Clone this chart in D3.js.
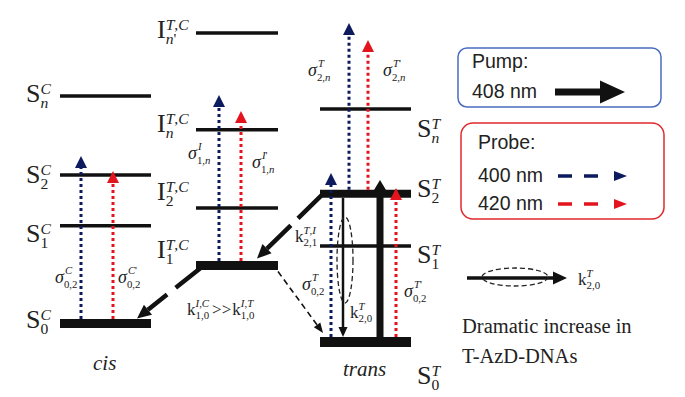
<!DOCTYPE html>
<html>
<head>
<meta charset="utf-8">
<script src="https://cdn.jsdelivr.net/npm/d3@7"></script>
<style>
  body { margin: 0; background: #fff; }
  svg { display: block; }
</style>
</head>
<body>
<svg id="chart"></svg>
<script>
// energies in arbitrary units (0 = trans ground state)
const cisLevels   = ["S0", "S1", "S2", "Sn"];
const cisEnergy   = [5.8, 36.3, 52.2, 76.9];
const interLevels = ["I1", "I2", "In", "In'"];
const interEnergy = [23.9, 41.9, 66.3, 96.6];
const transLevels = ["S0", "S1", "S2", "Sn"];
const transEnergy = [0, 30.0, 46.3, 72.8];

// probe / pump transitions: [column, start level, energy reached by the arrow]
const probe400 = [["cis", "S0", 58.1], ["inter", "I1", 77.2], ["trans", "S2", 99.7], ["trans", "S0", 52.8]];
const probe420 = [["cis", "S0", 53.4], ["inter", "I1", 72.2], ["trans", "S2", 94.4], ["trans", "S0", 48.1]];
const pump408  = [["trans", "S0", 50.6]];

// relaxation paths: [from column, from level, to column, to level]
const relax = [["trans", "S2", "inter", "I1"], ["inter", "I1", "cis", "S0"], ["inter", "I1", "trans", "S0"]];

const W = 685, H = 397;
const SERIF = "'Liberation Serif','Times New Roman',serif";
const SANS = "'Liberation Sans',Arial,sans-serif";
const INK = "#222";
const NAVY = "#0c1a5e", RED = "#e3141e";

const svg = d3.select("#chart").attr("width", W).attr("height", H);

const y = d3.scaleLinear().domain([0, 100]).range([342, 22]);
const columns = { cis: [60, 151], inter: [196, 278], trans: [320, 411] };
const thick = { "cis S0": 9, "inter I1": 9, "trans S2": 8, "trans S0": 10 };

const energyMap = {
    cis: new Map(d3.zip(cisLevels, cisEnergy)),
    inter: new Map(d3.zip(interLevels, interEnergy)),
    trans: new Map(d3.zip(transLevels, transEnergy))
};
const E = (c, n) => energyMap[c].get(n);
const lw = (c, n) => thick[c + " " + n] || 3.5;

// ---- levels
const allLevels = [];
Object.keys(energyMap).forEach(c => energyMap[c].forEach((e, n) => allLevels.push({ col: c, name: n, e: e })));

svg.selectAll(".level")
    .data(allLevels)
    .enter().append("line")
    .attr("class", "level")
    .attr("x1", d => columns[d.col][0])
    .attr("x2", d => columns[d.col][1])
    .attr("y1", d => y(d.e))
    .attr("y2", d => y(d.e))
    .attr("stroke", "#111")
    .attr("stroke-width", d => lw(d.col, d.name));

function head(x1, y1, x2, y2, len, wid, color) {
    const a = Math.atan2(y2 - y1, x2 - x1);
    const bx = x2 - len * Math.cos(a), by = y2 - len * Math.sin(a);
    const px = Math.sin(a) * wid / 2, py = -Math.cos(a) * wid / 2;
    svg.append("path")
        .attr("d", `M${bx + px},${by + py}L${x2},${y2}L${bx - px},${by - py}Z`)
        .attr("fill", color);
    return [bx, by];
}

// ---- relaxation arrows (dashed)
// anchor: which end of the level bar ("l" or "r") plus a small offset
const relaxStyle = [
    { from: ["l", 3, 0], to: ["r", -21, -7], dash: "35,10", w: 4.5, hl: 14, hw: 13 },
    { from: ["l", 4, 3], to: ["r", -14, -5], dash: "31,11", w: 4.5, hl: 14, hw: 13 },
    { from: ["r", 0, 6], to: ["l", 3, -9], dash: "6,4", w: 1.6, hl: 10, hw: 8 }
];
const end = (c, side) => side === "l" ? columns[c][0] : columns[c][1];
relax.forEach(([c1, l1, c2, l2], i) => {
    const s = relaxStyle[i];
    const x1 = end(c1, s.from[0]) + s.from[1], y1 = y(E(c1, l1)) + s.from[2];
    const x2 = end(c2, s.to[0]) + s.to[1], y2 = y(E(c2, l2)) + s.to[2];
    const b = head(x1, y1, x2, y2, s.hl, s.hw, "#111");
    svg.append("line")
        .attr("x1", x1).attr("y1", y1).attr("x2", b[0]).attr("y2", b[1])
        .attr("stroke", "#111").attr("stroke-width", s.w)
        .attr("stroke-dasharray", s.dash);
});

// ---- probe arrows (dotted)
const probe400X = [81, 219, 349, 331];
const probe420X = [113, 241, 368, 396];
function probeArrows(data, xs, color) {
    data.forEach(([c, from, top], i) => {
        const y0 = y(E(c, from)) - lw(c, from) / 2, yt = y(top), hl = 12;
        svg.append("line")
            .attr("x1", xs[i]).attr("x2", xs[i])
            .attr("y1", y0).attr("y2", yt + hl)
            .attr("stroke", color).attr("stroke-width", 3)
            .attr("stroke-dasharray", "3,3");
        head(xs[i], yt + hl + 1, xs[i], yt, hl, 12, color);
    });
}
probeArrows(probe400, probe400X, NAVY);
probeArrows(probe420, probe420X, RED);

// ---- pump arrow
pump408.forEach(([c, from, top]) => {
    const x = 380, yt = y(top);
    svg.append("line")
        .attr("x1", x).attr("x2", x)
        .attr("y1", y(E(c, from))).attr("y2", yt + 14)
        .attr("stroke", "#111").attr("stroke-width", 7);
    head(x, yt + 15, x, yt, 15, 18, "#111");
});

// ---- k20 decay arrow + dashed ellipse
{
    const x = 343, y1 = y(E("trans", "S2")) + 4, y2 = y(E("trans", "S0")) - 5;
    const b = head(x, y1, x, y2, 10, 9, "#111");
    svg.append("line").attr("x1", x).attr("x2", x).attr("y1", y1).attr("y2", b[1])
        .attr("stroke", "#111").attr("stroke-width", 2.5);
    svg.append("ellipse").attr("cx", 345).attr("cy", 260).attr("rx", 8).attr("ry", 43)
        .attr("fill", "none").attr("stroke", "#222").attr("stroke-width", 1.3)
        .attr("stroke-dasharray", "5,3");
}

// ---- text helpers
function scriptText(x, yb, str, size) {
    if (!str) return 0;
    const t = svg.append("text").attr("x", x).attr("y", yb)
        .attr("font-family", SERIF).attr("font-size", size).attr("fill", INK);
    str.split(/([A-Za-z]+)/).filter(s => s).forEach(s => {
        t.append("tspan").attr("font-style", /[A-Za-z]/.test(s) ? "italic" : "normal").text(s);
    });
    return t.node().getComputedTextLength();
}
function mathLabel(x, yb, base, sup, sub, o) {
    const t = svg.append("text").attr("x", x).attr("y", yb)
        .attr("font-family", SERIF).attr("font-size", o.size).attr("fill", INK)
        .attr("font-style", o.italic ? "italic" : "normal").text(base);
    const w = t.node().getComputedTextLength();
    const ss = o.size * o.ratio;
    const w1 = scriptText(x + w + (o.supDx || 0), yb + o.supDy, sup, ss) + (o.supDx || 0);
    const w2 = scriptText(x + w + (o.subDx || 0), yb + o.subDy, sub, ss) + (o.subDx || 0);
    return x + w + Math.max(w1, w2);
}

const stateSt = { size: 26, ratio: 0.6, supDy: -8, subDy: 6 };
const sigSt = { size: 18, italic: true, ratio: 0.6, supDy: -9, subDy: 5, supDx: 1 };
const kSt = { size: 17, ratio: 0.64, supDy: -8, subDy: 4 };

// state labels
mathLabel(26, y(E("cis", "Sn")) + 6, "S", "C", "n", stateSt);
mathLabel(26, y(E("cis", "S2")) + 8, "S", "C", "2", stateSt);
mathLabel(26, y(E("cis", "S1")) + 16, "S", "C", "1", stateSt);
mathLabel(26, y(E("cis", "S0")) + 5, "S", "C", "0", stateSt);

mathLabel(157, y(E("inter", "In'")) + 5, "I", "T,C", "n'", stateSt);
mathLabel(157, y(E("inter", "In")) + 2, "I", "T,C", "n", stateSt);
mathLabel(157, y(E("inter", "I2")) - 8, "I", "T,C", "2", stateSt);
mathLabel(157, y(E("inter", "I1")) - 8, "I", "T,C", "1", stateSt);

mathLabel(417, y(E("trans", "Sn")) + 28, "S", "T", "n", stateSt);
mathLabel(417, y(E("trans", "S2")) + 3, "S", "T", "2", stateSt);
mathLabel(417, y(E("trans", "S1")) + 17, "S", "T", "1", stateSt);
mathLabel(417, y(E("trans", "S0")) + 42, "S", "T", "0", stateSt);

// cross sections
mathLabel(55, 283, "σ", "C", "0,2", sigSt);
mathLabel(118, 283, "σ", "C'", "0,2", sigSt);
mathLabel(188, 159, "σ", "I", "1,n", sigSt);
mathLabel(252, 168, "σ", "I'", "1,n", sigSt);
mathLabel(308, 76, "σ", "T", "2,n", sigSt);
mathLabel(383, 76, "σ", "T'", "2,n", sigSt);
mathLabel(302, 290, "σ", "T", "0,2", sigSt);
mathLabel(404, 297, "σ", "T'", "0,2", sigSt);

// rate constants
mathLabel(295, 242, "k", "T,I", "2,1", kSt);
mathLabel(350, 318, "k", "T", "2,0", kSt);
{
    let x = mathLabel(187, 315, "k", "I,C", "1,0", kSt);
    const t = svg.append("text").attr("x", x + 3).attr("y", 315)
        .attr("font-family", SERIF).attr("font-size", 17).attr("fill", INK).text(">>");
    x += 3 + t.node().getComputedTextLength() + 1;
    mathLabel(x, 315, "k", "I,T", "1,0", kSt);
}

svg.append("text").attr("x", 93).attr("y", 370).attr("font-family", SERIF)
    .attr("font-size", 21).attr("font-style", "italic").attr("fill", INK).text("cis");
svg.append("text").attr("x", 343).attr("y", 376).attr("font-family", SERIF)
    .attr("font-size", 21).attr("font-style", "italic").attr("fill", INK).text("trans");

// ---- legend
svg.append("rect").attr("x", 458).attr("y", 48).attr("width", 203).attr("height", 59)
    .attr("rx", 9).attr("fill", "none").attr("stroke", "#4a6cc0").attr("stroke-width", 1.5);
svg.append("rect").attr("x", 461).attr("y", 123).attr("width", 203).attr("height", 96)
    .attr("rx", 12).attr("fill", "none").attr("stroke", "#e0282c").attr("stroke-width", 1.5);

const legText = [["Pump:", 472, 68], ["408 nm", 472, 98], ["Probe:", 478, 149], ["400 nm", 478, 182], ["420 nm", 478, 210]];
svg.selectAll(".leg")
    .data(legText)
    .enter().append("text")
    .attr("x", d => d[1]).attr("y", d => d[2])
    .attr("font-family", SANS).attr("font-size", 19.5).attr("fill", INK)
    .text(d => d[0]);

svg.append("line").attr("x1", 555).attr("x2", 602).attr("y1", 92).attr("y2", 92)
    .attr("stroke", "#111").attr("stroke-width", 7);
head(590, 92, 625, 92, 25, 23, "#111");

[[176, NAVY], [204, RED]].forEach(([yy, c]) => {
    svg.append("line").attr("x1", 558).attr("x2", 600).attr("y1", yy).attr("y2", yy)
        .attr("stroke", c).attr("stroke-width", 3.5).attr("stroke-dasharray", "14,12");
    head(600, yy, 627, yy, 13, 10, c);
});

svg.append("line").attr("x1", 467).attr("x2", 554).attr("y1", 278).attr("y2", 278)
    .attr("stroke", "#111").attr("stroke-width", 3.5);
head(540, 278, 567, 278, 14, 13, "#111");
svg.append("ellipse").attr("cx", 515).attr("cy", 277).attr("rx", 33).attr("ry", 9)
    .attr("fill", "none").attr("stroke", "#222").attr("stroke-width", 1.3)
    .attr("stroke-dasharray", "5,3");
mathLabel(578, 285, "k", "T", "2,0", kSt);

svg.append("text").attr("x", 462).attr("y", 333).attr("font-family", SERIF)
    .attr("font-size", 20.5).attr("fill", INK).text("Dramatic increase in");
svg.append("text").attr("x", 462).attr("y", 363).attr("font-family", SERIF)
    .attr("font-size", 20.5).attr("fill", INK).text("T-AzD-DNAs");
</script>
</body>
</html>
